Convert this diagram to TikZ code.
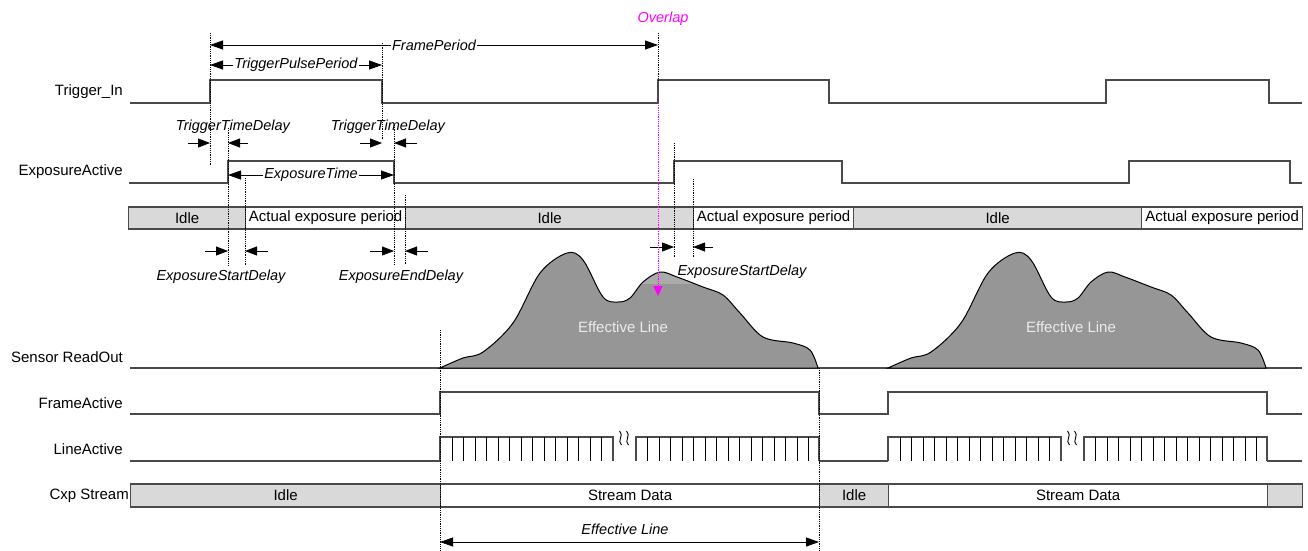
\documentclass[tikz,border=0pt]{standalone}
\usepackage{fontspec}
\setmainfont{Liberation Sans}
\usetikzlibrary{arrows.meta, calc}
\definecolor{wave}{HTML}{4A4A4A}
\definecolor{idle}{HTML}{D9D9D9}
\definecolor{hump}{HTML}{969696}
\definecolor{humptop}{HTML}{ABABAB}
\definecolor{overlap}{HTML}{FF00FF}

\begin{document}
\begin{tikzpicture}[
  x=1pt, y=-1pt,
  font=\fontsize{15}{17}\selectfont,
  sigline/.style={draw=wave, line width=1.5pt},
  tooth/.style={draw=black, line width=0.9pt},
  signame/.style={anchor=east, inner sep=0pt},
  cell/.style={draw=wave, line width=1.3pt, anchor=west, inner sep=0pt,
               minimum height=22pt},
  guide/.style={densely dotted, line width=0.8pt},
  span/.style={{Triangle[length=13pt,width=9pt]}-{Triangle[length=13pt,width=9pt]}, line width=0.8pt},
  stop/.style={-{Triangle[length=12pt,width=9pt]}, line width=0.8pt},
  spantext/.style={font=\fontsize{14.5}{17}\selectfont\itshape, fill=white, inner sep=1pt},
  note/.style={font=\fontsize{14.5}{17}\selectfont\itshape, inner sep=0pt},
  humptext/.style={text=white!92!black, inner sep=0pt},
  squiggle/.style={draw=black, line width=0.9pt},
  pics/readout/.style={code={
    \path[pic actions] plot[smooth, tension=0.55] coordinates {
      (0,0) (23,-10) (43,-16) (73,-45) (100,-95) (127,-115) (143,-108)
      (163,-71) (178,-66) (190,-70) (203,-86) (220,-96) (237,-91)
      (263,-81) (283,-73) (300,-55) (323,-31) (353,-25) (370,-18) (378,0)} -- cycle;
  }}
]
  \useasboundingbox (0,0) rectangle (1308,550);

  % Event positions
  \coordinate (tA) at (210,0);
  \coordinate (tB) at (228,0);
  \coordinate (tC) at (245,0);
  \coordinate (tD) at (382,0);
  \coordinate (tE) at (394,0);
  \coordinate (tF) at (405,0);
  \coordinate (tG) at (658,0);
  \coordinate (tH) at (674,0);
  \coordinate (tI) at (693,0);
  \coordinate (rA) at (440,0);
  \coordinate (rB) at (819,0);

  % Signal names
  \node[signame] (nTrig) at (123,92) {Trigger\_In};
  \node[signame] (nExp) at (123,172) {ExposureActive};
  \node[signame] (nSens) at (123,357) {Sensor ReadOut};
  \node[signame] (nFrame) at (123,403) {FrameActive};
  \node[signame] (nLine) at (123,449) {LineActive};
  \node[signame] (nCxp) at (129,495.5) {Cxp Stream};

  % Trigger_In and ExposureActive
  \draw[sigline] (130,103) -| (210,80) -| (382,103) -| (658,80) -| (829,103)
    -| (1106,80) -| (1269,103) -- (1302,103);
  \draw[sigline] (129,183) -| (228,161) -| (394,183) -| (674,161) -| (842,183)
    -| (1129,161) -| (1290,183) -- (1302,183);

  % Exposure states
  \foreach \a/\b/\f/\t [count=\i] in {128/245/idle/Idle, 245/405/white/Actual exposure period,
      405/693/idle/Idle, 693/853/white/Actual exposure period,
      853/1141/idle/Idle, 1141/1302/white/Actual exposure period}
    \node[cell, fill=\f, minimum width=\b-\a] (ex\i) at (\a,218) {\t};

  % Sensor readout
  \draw[sigline] (130,368) -- (1302,368);
  \pic[fill=hump] (r1) at (440,368) {readout};
  \begin{scope}
    \clip (600,240) rectangle (760,283);
    \pic[fill=humptop] at (440,368) {readout};
  \end{scope}
  \pic[draw=black, line width=1pt] at (440,368) {readout};
  \pic[fill=hump, draw=black, line width=1pt] (r2) at (888,368) {readout};
  \node[humptext] (e1) at (623,327) {Effective Line};
  \node[humptext] (e2) at (1071,327) {Effective Line};

  % FrameActive
  \draw[sigline] (130,414) -| (440,392) -| (819,414) -| (888,392) -| (1267,414) -- (1302,414);

  % LineActive
  \draw[sigline] (130,461) -- (440,461);
  \draw[sigline] (819,461) -- (888,461);
  \draw[sigline] (1267,461) -- (1302,461);
  \foreach \s in {0,448} {
    \begin{scope}[xshift=\s pt]
      \draw[sigline] (440,461) |- (613,437) -- (613,461);
      \draw[sigline] (636,461) |- (819,437) -- (819,461);
      \foreach \k in {0,...,13} \draw[tooth] (452+11.5*\k,437) -- ++(0,24);
      \foreach \k in {0,...,14} \draw[tooth] (647.5+11.5*\k,437) -- ++(0,24);
      \foreach \q in {620.5,627.5}
        \draw[squiggle] (\q-1,431) .. controls (\q+4,435) and (\q-4,441) .. (\q+1,445);
    \end{scope}
  }

  % Cxp stream
  \foreach \a/\b/\f/\t [count=\i] in {130/440/idle/Idle, 440/819/white/Stream Data,
      819/888/idle/Idle, 888/1267/white/Stream Data, 1267/1302/idle/{}}
    \node[cell, fill=\f, minimum width=\b-\a, minimum height=23pt] (cx\i) at (\a,495.5) {\t};

  % Guides
  \draw[guide] (tA |- 0,33) -- (tA |- 0,165);
  \draw[guide] (tB |- 0,128) -- (tB |- 0,265);
  \draw[guide] (tC |- 0,178) -- (tC |- 0,265);
  \draw[guide] (tD |- 0,43) -- (tD |- 0,140);
  \draw[guide] (tE |- 0,125) -- (tE |- 0,265);
  \draw[guide] (tF |- 0,195) -- (tF |- 0,265);
  \draw[guide] (tG |- 0,33) -- (tG |- 0,80);
  \draw[guide] (tH |- 0,143) -- (tH |- 0,257);
  \draw[guide] (tI |- 0,179) -- (tI |- 0,257);
  \draw[guide] (rA |- 0,330) -- (rA |- 0,550);
  \draw[guide] (rB |- 0,368) -- (rB |- 0,550);

  % Periods
  \draw[span] (tA |- 0,45) -- (tG |- 0,45) node[midway, spantext] (lFrame) {FramePeriod};
  \draw[span] (tA |- 0,65) -- (tD |- 0,65) node[midway, spantext] (lPulse) {TriggerPulsePeriod};
  \draw[span] (tB |- 0,175) -- (tE |- 0,175) node[midway, spantext] (lExpT) {ExposureTime};
  \draw[span] (rA |- 0,542) -- (rB |- 0,542);
  \node[note] (lEff) at (625,529) {Effective Line};

  % Delays
  \draw[stop] (188,143) -- (tA |- 0,143);
  \draw[stop] (248,143) -- (tB |- 0,143);
  \draw[stop] (360,143) -- (tD |- 0,143);
  \draw[stop] (417,143) -- (tE |- 0,143);
  \node[note] (lTd1) at (233,127) {TriggerTimeDelay};
  \node[note] (lTd2) at (388,127) {TriggerTimeDelay};
  \draw[stop] (205,251) -- (tB |- 0,251);
  \draw[stop] (268,251) -- (tC |- 0,251);
  \draw[stop] (370,251) -- (tE |- 0,251);
  \draw[stop] (428,251) -- (tF |- 0,251);
  \node[note] (lEs1) at (221,277) {ExposureStartDelay};
  \node[note] (lEe1) at (401,277) {ExposureEndDelay};
  \draw[stop] (650,247) -- (tH |- 0,247);
  \draw[stop] (713,247) -- (tI |- 0,247);
  \node[note] (lEs2) at (742,272) {ExposureStartDelay};

  % Overlap
  \node[note, text=overlap] (lOver) at (663,19) {Overlap};
  \draw[guide, overlap, -{Triangle[length=10pt,width=9pt]}] (tG |- 0,103) -- (tG |- 0,296);
\end{tikzpicture}
\end{document}
